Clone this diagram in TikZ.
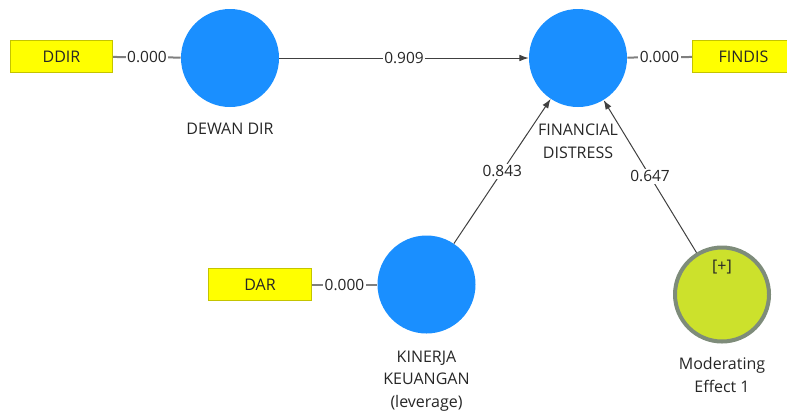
\documentclass[tikz,border=0pt]{standalone}
\usepackage{fontspec}
\setmainfont{Open Sans}
\usetikzlibrary{positioning,arrows.meta}
\definecolor{lvblue}{HTML}{1A8FFF}
\definecolor{indyellow}{HTML}{FFFF00}
\definecolor{indborder}{HTML}{C4C400}
\definecolor{modfill}{HTML}{CCE12C}
\definecolor{modborder}{HTML}{7E8C7A}
\definecolor{pathgray}{HTML}{404040}
\definecolor{loadgray}{HTML}{7F7F7F}
\definecolor{txt}{HTML}{262626}
\tikzset{
  latent/.style={
    circle,
    fill=lvblue,
    minimum size=73.5pt,
    inner sep=0pt,
  },
  moderator/.style={
    circle,
    fill=modfill,
    draw=modborder,
    line width=3pt,
    minimum size=70.5pt,
    inner sep=0pt,
  },
  indicator/.style={
    fill=indyellow,
    draw=indborder,
    line width=0.6pt,
    minimum width=77pt,
    minimum height=24.5pt,
    text=txt,
    font=\fontsize{12}{14}\selectfont,
  },
  caption/.style={
    text=txt,
    align=center,
    inner sep=0pt,
    font=\fontsize{12}{17}\selectfont,
  },
  coef/.style={
    fill=white,
    text=txt,
    inner sep=1.2pt,
    font=\fontsize{11.6}{14}\selectfont,
  },
  loading/.style={
    draw=loadgray,
    line width=1.5pt,
  },
  structural/.style={
    draw=pathgray,
    line width=0.75pt,
    -{Latex[length=7pt,width=5pt]},
  }
}

\begin{document}
\begin{tikzpicture}[x=0.75pt,y=-0.75pt]
    \clip (0,0) rectangle (787,412);

    % latent variables
    \node [latent] (dewan) at (230,58) {};
    \node [latent] (fd) at (578,58) {};
    \node [latent] (kinerja) at (426.5,284.5) {};
    \node [moderator] (mod) at (722,294.5) {};

    % indicators
    \node [indicator] (ddir) at (61.5,56.5) {DDIR};
    \node [indicator] (findis) at (743.5,56.5) {FINDIS};
    \node [indicator] (dar) at (260,284.5) {DAR};

    % captions
    \node [caption, below=11.5pt of dewan] (dewanlbl) {DEWAN DIR};
    \node [caption, below=12.2pt of fd] (fdlbl) {FINANCIAL\\DISTRESS};
    \node [caption, below=12.5pt of kinerja] (kinerjalbl) {KINERJA\\KEUANGAN\\(leverage)};
    \node [caption, below=10.5pt of mod] (modlbl) {Moderating\\Effect 1};
    \node [caption, anchor=north, yshift=-10.5pt] (modplus) at (mod.north) {[+]};

    % outer loadings
    \draw [loading] (ddir) -- node [coef] {0.000} (dewan);
    \draw [loading] (fd) -- node [coef] {0.000} (findis);
    \draw [loading] (dar) -- node [coef] {0.000} (kinerja);

    % path coefficients
    \draw [structural] (dewan) -- node [coef] {0.909} (fd);
    \draw [structural] (kinerja) -- node [coef] {0.843} (fd);
    \draw [structural] (mod) -- node [coef] {0.647} (fd);
\end{tikzpicture}
\end{document}
